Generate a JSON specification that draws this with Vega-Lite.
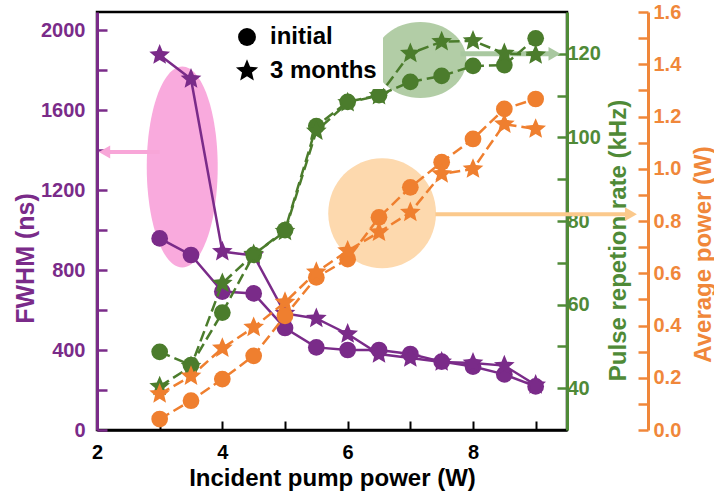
{
  "$schema": "https://vega.github.io/schema/vega-lite/v6.json",
  "autosize": {"type": "none"},
  "width": 470,
  "height": 418,
  "padding": {"left": 97, "top": 12, "right": 147, "bottom": 67},
  "background": "white",
  "config": {
    "font": "Liberation Sans",
    "view": {"stroke": "black", "strokeWidth": 2.5},
    "axis": {"grid": false, "labelFontWeight": "bold", "titleFontWeight": "bold", "labelFontSize": 20, "titleFontSize": 24, "labelFlush": false, "labelOverlap": false}
  },
  "datasets": {
    "fwhm": [
      {"x": 3, "v": 958, "t": "initial"}, {"x": 3.5, "v": 875, "t": "initial"}, {"x": 4, "v": 692, "t": "initial"},
      {"x": 4.5, "v": 683, "t": "initial"}, {"x": 5, "v": 510, "t": "initial"}, {"x": 5.5, "v": 413, "t": "initial"},
      {"x": 6, "v": 400, "t": "initial"}, {"x": 6.5, "v": 400, "t": "initial"}, {"x": 7, "v": 380, "t": "initial"},
      {"x": 7.5, "v": 342, "t": "initial"}, {"x": 8, "v": 317, "t": "initial"}, {"x": 8.5, "v": 278, "t": "initial"},
      {"x": 9, "v": 218, "t": "initial"},
      {"x": 3, "v": 1875, "t": "3 months"}, {"x": 3.5, "v": 1755, "t": "3 months"}, {"x": 4, "v": 892, "t": "3 months"},
      {"x": 4.5, "v": 872, "t": "3 months"}, {"x": 5, "v": 583, "t": "3 months"}, {"x": 5.5, "v": 558, "t": "3 months"},
      {"x": 6, "v": 480, "t": "3 months"}, {"x": 6.5, "v": 380, "t": "3 months"}, {"x": 7, "v": 360, "t": "3 months"},
      {"x": 7.5, "v": 340, "t": "3 months"}, {"x": 8, "v": 335, "t": "3 months"}, {"x": 8.5, "v": 322, "t": "3 months"},
      {"x": 9, "v": 225, "t": "3 months"}
    ],
    "prr": [
      {"x": 3, "v": 48.7, "t": "initial"}, {"x": 3.5, "v": 45.5, "t": "initial"}, {"x": 4, "v": 58.1, "t": "initial"},
      {"x": 4.5, "v": 71.9, "t": "initial"}, {"x": 5, "v": 77.8, "t": "initial"}, {"x": 5.5, "v": 102.7, "t": "initial"},
      {"x": 6, "v": 108.5, "t": "initial"}, {"x": 6.5, "v": 110.1, "t": "initial"}, {"x": 7, "v": 113.3, "t": "initial"},
      {"x": 7.5, "v": 114.7, "t": "initial"}, {"x": 8, "v": 117.1, "t": "initial"}, {"x": 8.5, "v": 117.3, "t": "initial"},
      {"x": 9, "v": 123.7, "t": "initial"},
      {"x": 3, "v": 40.4, "t": "3 months"}, {"x": 3.5, "v": 45.2, "t": "3 months"}, {"x": 4, "v": 65.1, "t": "3 months"},
      {"x": 4.5, "v": 72, "t": "3 months"}, {"x": 5, "v": 77.5, "t": "3 months"}, {"x": 5.5, "v": 101.5, "t": "3 months"},
      {"x": 6, "v": 108.3, "t": "3 months"}, {"x": 6.5, "v": 110, "t": "3 months"}, {"x": 7, "v": 120.1, "t": "3 months"},
      {"x": 7.5, "v": 122.9, "t": "3 months"}, {"x": 8, "v": 123.1, "t": "3 months"}, {"x": 8.5, "v": 120.1, "t": "3 months"},
      {"x": 9, "v": 119.7, "t": "3 months"}
    ],
    "pwr": [
      {"x": 3, "v": 0.042, "t": "initial"}, {"x": 3.5, "v": 0.112, "t": "initial"}, {"x": 4, "v": 0.195, "t": "initial"},
      {"x": 4.5, "v": 0.284, "t": "initial"}, {"x": 5, "v": 0.437, "t": "initial"}, {"x": 5.5, "v": 0.584, "t": "initial"},
      {"x": 6, "v": 0.654, "t": "initial"}, {"x": 6.5, "v": 0.814, "t": "initial"}, {"x": 7, "v": 0.929, "t": "initial"},
      {"x": 7.5, "v": 1.025, "t": "initial"}, {"x": 8, "v": 1.114, "t": "initial"}, {"x": 8.5, "v": 1.229, "t": "initial"},
      {"x": 9, "v": 1.267, "t": "initial"},
      {"x": 3, "v": 0.138, "t": "3 months"}, {"x": 3.5, "v": 0.206, "t": "3 months"}, {"x": 4, "v": 0.313, "t": "3 months"},
      {"x": 4.5, "v": 0.393, "t": "3 months"}, {"x": 5, "v": 0.489, "t": "3 months"}, {"x": 5.5, "v": 0.604, "t": "3 months"},
      {"x": 6, "v": 0.686, "t": "3 months"}, {"x": 6.5, "v": 0.757, "t": "3 months"}, {"x": 7, "v": 0.833, "t": "3 months"},
      {"x": 7.5, "v": 0.98, "t": "3 months"}, {"x": 8, "v": 0.999, "t": "3 months"}, {"x": 8.5, "v": 1.171, "t": "3 months"},
      {"x": 9, "v": 1.152, "t": "3 months"}
    ],
    "notes": [
      {"id": "pink_ellipse", "x": 3.36, "v": 1315},
      {"id": "pink_arrow", "x": 3.0, "x2": 2.12, "v": 1390},
      {"id": "green_ellipse", "x": 7.16, "v": 118.5},
      {"id": "green_arrow", "x": 7.8, "x2": 9.3, "v": 120},
      {"id": "orange_ellipse", "x": 6.55, "v": 0.83},
      {"id": "orange_arrow", "x": 7.4, "x2": 10.52, "v": 0.826}
    ]
  },
  "resolve": {"scale": {"y": "independent", "color": "independent"}, "axis": {"y": "independent"}},
  "layer": [
    {
      "encoding": {
        "x": {"field": "x", "type": "quantitative", "scale": {"domain": [2, 9.5], "nice": false, "zero": false},
          "axis": {"title": "Incident pump power (W)", "values": [2, 3, 4, 5, 6, 7, 8, 9], "format": "d", "labelExpr": "datum.value % 2 == 0 ? datum.label : ''",
            "tickSize": -9, "tickWidth": 2, "tickColor": "black", "domainColor": "black", "domainWidth": 2.5,
            "labelPadding": 21, "labelColor": "black", "titleColor": "black", "titlePadding": 4}},
        "y": {"field": "v", "type": "quantitative", "scale": {"domain": [0, 2090], "nice": false},
          "axis": {"orient": "left", "title": "FWHM (ns)", "values": [0, 200, 400, 600, 800, 1000, 1200, 1400, 1600, 1800, 2000],
            "labelExpr": "datum.value % 400 == 0 ? datum.label : ''", "format": "d",
            "tickSize": -10, "tickWidth": 2.5, "tickColor": "#7a2b89", "domainColor": "#7a2b89", "domainWidth": 3,
            "labelPadding": 22, "labelColor": "#7a2b89", "titleColor": "#7a2b89",
            "titleFontSize": 25, "titleX": -72, "titleY": 246, "titleAlign": "center", "titleBaseline": "middle", "titleAngle": 270}}
      },
      "layer": [
        {"data": {"name": "notes"}, "transform": [{"filter": "datum.id == 'pink_ellipse'"}],
          "mark": {"type": "point", "filled": true, "opacity": 1, "color": "#f9aadd", "size": 40401,
            "shape": "M-0.353,0A0.353,1,0,1,0,0.353,0A0.353,1,0,1,0,-0.353,0Z"}},
        {"data": {"name": "notes"}, "transform": [{"filter": "datum.id == 'pink_arrow'"}],
          "mark": {"type": "rule", "color": "#f8a6d8", "strokeWidth": 4},
          "encoding": {"x2": {"field": "x2"}}},
        {"data": {"name": "notes"}, "transform": [{"filter": "datum.id == 'pink_arrow'"}],
          "mark": {"type": "point", "filled": true, "opacity": 1, "color": "#f8a6d8", "size": 170, "shape": "triangle-left"},
          "encoding": {"x": {"field": "x2", "type": "quantitative", "scale": {"domain": [2, 9.5], "nice": false, "zero": false}}}},
        {"data": {"name": "fwhm"},
          "mark": {"type": "line", "color": "#7a2b89", "strokeWidth": 2.5},
          "encoding": {"detail": {"field": "t"}}},
        {"data": {"name": "fwhm"},
          "mark": {"type": "point", "filled": true, "opacity": 1, "size": 280},
          "encoding": {
            "color": {"field": "t", "type": "nominal", "scale": {"domain": ["initial", "3 months"], "range": ["#7a2b89", "#7a2b89"]}, "legend": null},
            "shape": {"field": "t", "type": "nominal",
            "scale": {"domain": ["initial", "3 months"], "range": ["circle", "M0,-1.3L0.344,-0.473L1.236,-0.402L0.556,0.181L0.764,1.052L0,0.585L-0.764,1.052L-0.556,0.181L-1.236,-0.402L-0.344,-0.473Z"]},
            "legend": {"orient": "none", "legendX": 132, "legendY": 7, "title": null, "labelFontSize": 24, "labelFontWeight": "bold", "labelColor": "black",
              "fillColor": "white", "padding": 6, "rowPadding": 10, "labelOffset": 11, "symbolSize": 320,
              "symbolFillColor": "black", "symbolStrokeColor": "black", "symbolOpacity": 1, "symbolStrokeWidth": 0}}}}
      ]
    },
    {
      "encoding": {
        "x": {"field": "x", "type": "quantitative", "scale": {"domain": [2, 9.5], "nice": false, "zero": false}},
        "y": {"field": "v", "type": "quantitative", "scale": {"domain": [30, 130], "nice": false, "zero": false},
          "axis": {"orient": "right", "title": "Pulse repetion rate (kHz)", "values": [40, 50, 60, 70, 80, 90, 100, 110, 120],
            "labelExpr": "datum.value % 20 == 0 ? datum.label : ''",
            "tickSize": -10, "tickWidth": 2.5, "tickColor": "#4f8a37", "domainColor": "#4f8a37", "domainWidth": 3,
            "labelPadding": 10, "labelColor": "#4f8a37", "titleColor": "#4f8a37",
            "titleX": 51, "titleY": 228, "titleAlign": "center", "titleBaseline": "middle", "titleAngle": 270}}
      },
      "layer": [
        {"data": {"name": "notes"}, "transform": [{"filter": "datum.id == 'green_ellipse'"}],
          "mark": {"type": "point", "filled": true, "opacity": 1, "color": "#b2cda6", "size": 8464,
            "shape": "M-1,0A1,0.826,0,1,0,1,0A1,0.826,0,1,0,-1,0Z"}},
        {"data": {"name": "notes"}, "transform": [{"filter": "datum.id == 'green_arrow'"}],
          "mark": {"type": "rule", "color": "#a9c8a0", "strokeWidth": 5},
          "encoding": {"x2": {"field": "x2"}}},
        {"data": {"name": "notes"}, "transform": [{"filter": "datum.id == 'green_arrow'"}],
          "mark": {"type": "point", "filled": true, "opacity": 1, "color": "#a9c8a0", "size": 190, "shape": "triangle-right"},
          "encoding": {"x": {"field": "x2", "type": "quantitative", "scale": {"domain": [2, 9.5], "nice": false, "zero": false}}}},
        {"data": {"name": "prr"},
          "mark": {"type": "line", "color": "#4b7c2c", "strokeWidth": 2.5, "strokeDash": [11, 5]},
          "encoding": {"detail": {"field": "t"}}},
        {"data": {"name": "prr"},
          "mark": {"type": "point", "filled": true, "opacity": 1, "size": 280},
          "encoding": {
            "color": {"field": "t", "type": "nominal", "scale": {"domain": ["initial", "3 months"], "range": ["#4b7c2c", "#4b7c2c"]}, "legend": null},
            "shape": {"field": "t", "type": "nominal",
            "scale": {"domain": ["initial", "3 months"], "range": ["circle", "M0,-1.3L0.344,-0.473L1.236,-0.402L0.556,0.181L0.764,1.052L0,0.585L-0.764,1.052L-0.556,0.181L-1.236,-0.402L-0.344,-0.473Z"]},
            "legend": {"orient": "none", "legendX": 132, "legendY": 7, "title": null, "labelFontSize": 24, "labelFontWeight": "bold", "labelColor": "black",
              "fillColor": "white", "padding": 6, "rowPadding": 10, "labelOffset": 11, "symbolSize": 320,
              "symbolFillColor": "black", "symbolStrokeColor": "black", "symbolOpacity": 1, "symbolStrokeWidth": 0}}}}
      ]
    },
    {
      "encoding": {
        "x": {"field": "x", "type": "quantitative", "scale": {"domain": [2, 9.5], "nice": false, "zero": false}},
        "y": {"field": "v", "type": "quantitative", "scale": {"domain": [0, 1.6], "nice": false},
          "axis": {"orient": "right", "offset": 81, "title": "Average power (W)",
            "values": [0, 0.1, 0.2, 0.3, 0.4, 0.5, 0.6, 0.7, 0.8, 0.9, 1.0, 1.1, 1.2, 1.3, 1.4, 1.5, 1.6],
            "labelExpr": "round(datum.value * 10) % 2 == 0 ? datum.label : ''", "format": ".1f",
            "tickSize": -10, "tickWidth": 2.5, "tickColor": "#f0873a", "domainColor": "#f0873a", "domainWidth": 3,
            "labelPadding": 15, "labelColor": "#f0873a", "titleColor": "#f0873a",
            "titleX": 55, "titleY": 242, "titleAlign": "center", "titleBaseline": "middle", "titleAngle": 270}}
      },
      "layer": [
        {"data": {"name": "notes"}, "transform": [{"filter": "datum.id == 'orange_ellipse'"}],
          "mark": {"type": "point", "filled": true, "opacity": 1, "color": "#fdd9ae", "size": 12100,
            "shape": "M-0.98,0A0.98,1,0,1,0,0.98,0A0.98,1,0,1,0,-0.98,0Z"}},
        {"data": {"name": "notes"}, "transform": [{"filter": "datum.id == 'orange_arrow'"}],
          "mark": {"type": "rule", "color": "#fbc98c", "strokeWidth": 4},
          "encoding": {"x2": {"field": "x2"}}},
        {"data": {"name": "notes"}, "transform": [{"filter": "datum.id == 'orange_arrow'"}],
          "mark": {"type": "point", "filled": true, "opacity": 1, "color": "#fbc98c", "size": 190, "shape": "triangle-right"},
          "encoding": {"x": {"field": "x2", "type": "quantitative", "scale": {"domain": [2, 9.5], "nice": false, "zero": false}}}},
        {"data": {"name": "pwr"},
          "mark": {"type": "line", "color": "#ef7f2f", "strokeWidth": 2.5, "strokeDash": [11, 5]},
          "encoding": {"detail": {"field": "t"}}},
        {"data": {"name": "pwr"},
          "mark": {"type": "point", "filled": true, "opacity": 1, "size": 280},
          "encoding": {
            "color": {"field": "t", "type": "nominal", "scale": {"domain": ["initial", "3 months"], "range": ["#ef7f2f", "#ef7f2f"]}, "legend": null},
            "shape": {"field": "t", "type": "nominal",
            "scale": {"domain": ["initial", "3 months"], "range": ["circle", "M0,-1.3L0.344,-0.473L1.236,-0.402L0.556,0.181L0.764,1.052L0,0.585L-0.764,1.052L-0.556,0.181L-1.236,-0.402L-0.344,-0.473Z"]},
            "legend": {"orient": "none", "legendX": 132, "legendY": 7, "title": null, "labelFontSize": 24, "labelFontWeight": "bold", "labelColor": "black",
              "fillColor": "white", "padding": 6, "rowPadding": 10, "labelOffset": 11, "symbolSize": 320,
              "symbolFillColor": "black", "symbolStrokeColor": "black", "symbolOpacity": 1, "symbolStrokeWidth": 0}}}}
      ]
    }
  ]
}
